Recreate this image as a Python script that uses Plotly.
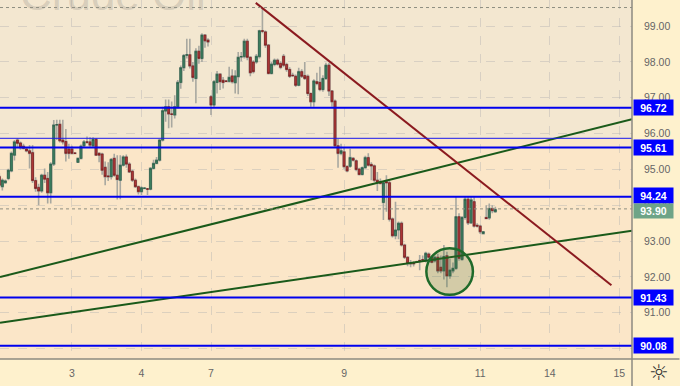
import plotly.graph_objects as go

opens = [94.80,94.52,94.63,94.75,94.96,95.40,95.82,95.74,95.65,95.57,95.52,95.47,94.69,94.50,94.40,94.84,94.75,94.35,95.15,96.24,
96.26,95.82,95.78,95.57,95.57,95.46,95.20,95.31,95.66,95.77,95.77,95.66,95.84,95.45,95.43,95.06,94.82,94.80,95.31,94.84,
94.70,95.12,95.35,95.15,94.95,94.70,94.52,94.38,94.47,94.46,94.45,95.03,95.17,95.26,95.82,96.63,96.75,96.55,96.52,96.75,
97.43,97.84,98.19,98.20,97.89,97.54,98.30,98.10,98.75,98.61,97.03,96.80,97.43,97.66,97.49,97.47,97.46,97.61,97.42,97.59,
98.14,98.15,98.58,98.13,98.00,98.00,98.15,98.87,98.84,98.47,97.68,97.93,98.05,97.96,98.16,97.93,97.79,97.63,97.60,97.35,
97.73,97.62,97.60,97.12,96.89,97.45,97.43,97.23,97.54,97.91,97.19,96.91,95.66,95.45,95.49,95.08,95.09,95.31,95.24,95.01,
94.86,95.05,95.33,95.14,95.10,94.70,94.66,94.08,94.66,94.63,93.62,93.15,93.31,93.50,92.89,92.55,92.38,92.38,92.42,92.46,
92.48,92.45,92.64,92.55,92.45,92.55,92.27,92.17,92.59,92.03,92.17,92.24,93.68,92.49,93.66,94.17,93.51,94.10,93.44,93.42,
93.21,93.66,93.65,93.91,93.82]
highs = [94.90,94.75,94.72,95.02,95.50,95.82,95.87,95.78,95.72,95.60,95.68,95.68,94.78,94.60,94.88,95.03,94.93,95.20,96.38,96.39,
96.39,96.39,96.13,95.72,95.66,95.48,95.33,95.70,95.82,95.92,95.90,95.90,95.88,95.48,95.47,95.22,95.20,95.32,95.44,95.40,
95.40,95.40,95.42,95.20,94.99,94.75,94.55,94.53,94.50,94.48,95.07,95.27,95.35,95.85,96.75,96.95,96.95,96.90,97.07,97.50,
97.90,98.22,98.65,98.65,98.00,98.38,98.45,98.80,98.78,98.66,97.08,97.50,97.75,97.68,97.58,97.50,97.87,97.80,97.77,98.28,
98.28,98.65,98.65,98.16,98.05,98.22,98.90,99.49,98.88,98.50,98.00,98.10,98.10,98.02,98.22,97.98,97.85,97.70,97.65,97.84,
97.80,98.00,97.65,97.15,97.52,97.70,97.87,97.63,97.98,97.98,97.22,96.95,95.85,95.72,95.60,95.12,95.58,95.35,95.28,95.05,
95.08,95.38,95.45,95.20,95.14,94.93,94.75,94.68,94.84,94.70,93.66,94.10,93.55,93.55,92.93,92.58,92.47,92.44,92.45,92.61,
92.60,92.70,92.68,92.60,92.60,92.65,92.60,92.89,92.70,92.50,92.40,94.24,93.78,93.70,94.24,94.24,94.24,94.24,93.50,93.46,
93.28,94.00,94.05,94.00,93.96]
lows = [94.50,94.41,94.60,94.70,94.92,95.25,95.60,95.55,95.56,95.48,95.03,94.62,94.38,94.00,94.35,94.62,94.05,94.05,95.10,95.82,
95.75,95.70,95.22,95.30,95.42,95.43,95.18,95.28,95.60,95.72,95.62,95.62,95.38,95.20,94.85,94.56,94.68,94.72,94.80,94.16,
94.17,95.08,95.05,94.90,94.65,94.48,94.30,94.29,94.45,94.29,94.42,95.00,95.15,95.22,95.78,96.33,96.15,96.17,96.42,96.70,
97.25,97.75,98.10,97.82,97.45,96.85,97.95,98.00,98.40,98.43,96.52,96.72,97.12,97.22,97.26,97.44,97.43,97.40,97.12,97.10,
98.02,98.10,98.05,97.60,97.68,97.95,98.10,98.80,98.40,97.65,97.65,97.88,97.90,97.80,97.85,97.73,97.55,97.58,97.30,97.32,
97.55,97.50,97.05,96.75,96.75,97.35,97.18,97.17,97.50,97.05,96.75,95.60,95.05,95.40,95.02,94.92,95.05,95.22,94.95,94.83,
94.83,95.02,95.08,94.70,94.65,94.40,94.58,93.59,93.82,93.55,93.10,93.05,93.05,92.85,92.50,92.30,92.27,92.29,92.40,92.19,
92.42,92.40,92.45,92.38,92.40,92.10,92.10,91.93,91.71,91.95,92.10,92.20,92.45,92.45,93.60,93.45,93.48,93.38,93.38,93.20,
93.19,93.62,93.60,93.78,93.79]
closes = [94.56,94.70,94.68,94.98,95.45,95.77,95.73,95.61,95.59,95.52,95.45,94.69,94.47,94.40,94.84,94.73,94.35,95.15,96.24,96.25,
95.80,95.77,95.45,95.45,95.45,95.45,95.31,95.65,95.77,95.76,95.68,95.84,95.40,95.40,94.98,94.80,94.80,95.28,94.84,94.72,
95.12,95.35,95.15,94.93,94.70,94.52,94.38,94.49,94.48,94.45,95.03,95.17,95.26,95.82,96.64,96.75,96.55,96.54,96.75,97.43,
97.84,98.18,98.20,97.89,97.57,98.30,98.10,98.75,98.59,98.56,96.80,97.45,97.66,97.45,97.43,97.46,97.57,97.45,97.61,98.13,
98.15,98.58,98.13,97.70,97.73,98.16,98.87,98.86,98.47,97.68,97.94,98.05,97.94,97.85,97.91,97.79,97.60,97.62,97.35,97.73,
97.60,97.54,97.12,96.89,97.47,97.40,97.23,97.54,97.91,97.19,96.89,95.66,95.45,95.52,95.08,94.96,95.33,95.26,95.00,94.86,
95.05,95.33,95.12,95.10,94.70,94.63,94.61,94.63,94.63,93.61,93.15,93.31,93.50,92.89,92.55,92.38,92.37,92.37,92.41,92.45,
92.47,92.66,92.55,92.41,92.55,92.17,92.17,92.57,92.03,92.19,92.24,93.68,92.52,93.66,94.17,93.51,94.15,93.42,93.42,93.26,
93.26,93.63,93.91,93.85,93.88]

tick_positions = [24, 47, 70, 114, 159, 182, 205]
tick_labels = ["3", "4", "7", "9", "11", "14", "15"]
price_ticks = [90, 91, 92, 93, 94, 95, 96, 97, 98, 99]
level_prices = [96.72, 95.61, 94.24, 91.43, 90.08]
level_shifts = [0, 0, 1.5, 0, 0]
thin_level = 95.87
dotted_levels = [99.52, 93.90]
last_price = 93.90
zone_split = 95.87

maroon_x, maroon_y = [84.8, 202.4], [99.65, 91.77]
green1_x, green1_y = [0.23, 209.2], [92.0, 96.40]
green2_x, green2_y = [0.23, 209.2], [90.72, 93.29]
circle_x, circle_y = [141.2, 156.6], [91.50, 92.80]

X0, X1 = 0.23, 209.2
Y0, Y1 = 89.71, 99.73
FONT = "Liberation Sans"
x = list(range(len(opens)))
fig = go.Figure()

# wicks
fig.add_trace(go.Candlestick(
    x=x, open=opens, high=highs, low=lows, close=closes,
    increasing=dict(line=dict(color="#a8a8a0", width=1.6), fillcolor="#a8a8a0"),
    decreasing=dict(line=dict(color="#a8a8a0", width=1.6), fillcolor="#a8a8a0"),
    whiskerwidth=0, showlegend=False))
# bodies
body_hi = [max(o, c) for o, c in zip(opens, closes)]
body_lo = [min(o, c) for o, c in zip(opens, closes)]
fig.add_trace(go.Candlestick(
    x=x, open=opens, high=body_hi, low=body_lo, close=closes,
    increasing=dict(line=dict(color="#2b5f48", width=0.8), fillcolor="#3f8263"),
    decreasing=dict(line=dict(color="#7c1f1f", width=0.8), fillcolor="#b23a3a"),
    whiskerwidth=0, showlegend=False))

for lx, ly, col, w in [(green1_x, green1_y, "#1a5a1a", 2), (green2_x, green2_y, "#1a5a1a", 2), (maroon_x, maroon_y, "#8b1a1f", 2)]:
    fig.add_trace(go.Scatter(x=lx, y=ly, mode="lines", line=dict(color=col, width=w), showlegend=False, hoverinfo="skip"))

shapes = [
    dict(type="rect", xref="paper", yref="y", x0=0, x1=1, y0=zone_split, y1=Y1, layer="below", line_width=0, fillcolor="#f3e7d0"),
    dict(type="rect", xref="paper", yref="y", x0=0, x1=1, y0=Y0, y1=zone_split, layer="below", line_width=0, fillcolor="#fbe6c8"),
]
for p in dotted_levels:
    shapes.append(dict(type="line", xref="paper", yref="y", x0=0, x1=1, y0=p, y1=p, layer="above",
                       line=dict(color="#8f8f80", width=1, dash="dot")))
for p in level_prices:
    shapes.append(dict(type="line", xref="paper", yref="y", x0=0, x1=1, y0=p, y1=p, layer="above",
                       line=dict(color="#0000ee", width=2)))
shapes.append(dict(type="line", xref="paper", yref="y", x0=0, x1=1, y0=thin_level, y1=thin_level, layer="above",
                   line=dict(color="#1a1aee", width=1)))
shapes.append(dict(type="circle", xref="x", yref="y", x0=circle_x[0], x1=circle_x[1], y0=circle_y[0], y1=circle_y[1],
                   layer="above", line=dict(color="#1f6a2a", width=2.5), fillcolor="rgba(70,110,50,0.22)"))
shapes.append(dict(type="line", xref="paper", yref="paper", x0=1, x1=1, y0=1, y1=-27/359,
                   line=dict(color="#8c8a80", width=1.5), layer="above"))
shapes.append(dict(type="line", xref="paper", yref="paper", x0=0, x1=680/632.5, y0=0, y1=0,
                   line=dict(color="#8c8a80", width=1.5), layer="above"))

annotations = [
    dict(text="Crude Oil", xref="paper", yref="paper", x=18/632.5, y=1-21/359, xanchor="left", yanchor="bottom",
         showarrow=False, font=dict(family=FONT, size=44, color="rgba(150,145,135,0.3)")),
    dict(text="☼", xref="paper", yref="paper", x=(659.5)/632.5, y=-13.5/359, xanchor="center", yanchor="middle",
         showarrow=False, font=dict(family="DejaVu Sans", size=22, color="#333333")),
]
for p, s in zip(level_prices, level_shifts):
    annotations.append(dict(text=f"<b>{p:.2f}</b>", xref="paper", yref="y", x=1, y=p, xanchor="left", yanchor="middle",
                            yshift=s, xshift=0.5, showarrow=False, width=38, height=14, bgcolor="#0000ff", borderpad=0.5,
                            font=dict(family=FONT, size=10.5, color="#ffffff")))
annotations.append(dict(text=f"<b>{last_price:.2f}</b>", xref="paper", yref="y", x=1, y=last_price, xanchor="left", yanchor="middle",
                        yshift=-2, xshift=0.5, showarrow=False, width=38, height=13, bgcolor="#6ea487", borderpad=0.5,
                        font=dict(family=FONT, size=10.5, color="#ffffff")))

fig.update_layout(
    width=680, height=386, margin=dict(l=0, r=47.5, t=0, b=27),
    paper_bgcolor="#fef1cd", plot_bgcolor="#fbe6c8", boxgap=0.12,
    shapes=shapes, annotations=annotations, showlegend=False,
    font=dict(family=FONT, size=10.5, color="#666666"),
    xaxis=dict(range=[X0, X1], rangeslider=dict(visible=False), tickvals=tick_positions, ticktext=tick_labels,
               showgrid=True, gridcolor="rgba(175,175,175,0.4)", griddash="dash", gridwidth=1, zeroline=False,
               ticks="", showline=False, tickfont=dict(size=10.5, color="#666666"), ticklabelstandoff=6),
    yaxis=dict(range=[Y0, Y1], side="right", tickvals=price_ticks, ticktext=[f"{v:.2f}" for v in price_ticks],
               showgrid=True, gridcolor="rgba(175,175,175,0.4)", griddash="dash", gridwidth=1, zeroline=False,
               ticks="", showline=False, tickfont=dict(size=10.5, color="#666666"), ticklabelstandoff=11),
)
fig.write_html("out.html", config=dict(displayModeBar=False),
               post_script="document.body.style.margin='0';document.documentElement.style.overflow='hidden';")
